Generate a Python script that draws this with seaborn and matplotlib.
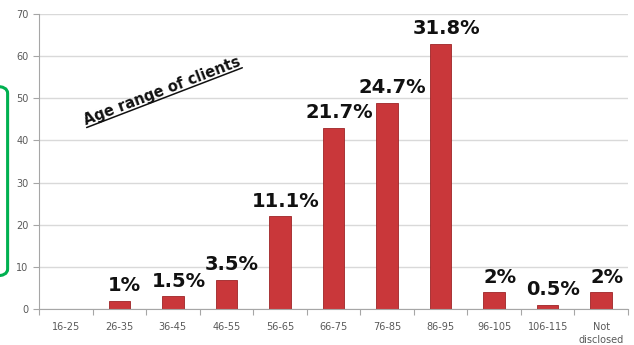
import matplotlib
matplotlib.use("Agg")
import matplotlib.pyplot as plt
import seaborn as sns
import pandas as pd
from matplotlib.patches import FancyBboxPatch
from matplotlib.lines import Line2D
from matplotlib.transforms import Affine2D

categories = ["16-25", "26-35", "36-45", "46-55", "56-65", "66-75", "76-85",
              "86-95", "96-105", "106-115", "Not\ndisclosed"]
values = [0, 2, 3, 7, 22, 43, 49, 63, 4, 1, 4]
pct_labels = ["", "1%", "1.5%", "3.5%", "11.1%", "21.7%", "24.7%", "31.8%",
              "2%", "0.5%", "2%"]
y_ticks = [0, 10, 20, 30, 40, 50, 60, 70]
title = "Age range of clients"

sns.set_theme(style="white")
plt.rcParams["font.family"] = ["DejaVu Sans"]

df = pd.DataFrame({"age": categories, "count": values})

fig = plt.figure(figsize=(6.34, 3.45), dpi=100)
ax = fig.add_axes([0.0615, 0.1043, 0.929, 0.855])

sns.barplot(data=df, x="age", y="count", color="#c9373a", width=0.4,
            edgecolor="#9e2426", linewidth=0.6, saturation=1, ax=ax)

ax.set_ylim(0, 70)
ax.set_xlim(-0.5, len(categories) - 0.5)
ax.set_yticks(y_ticks)
ax.yaxis.grid(True, color="#d9d9d9", linewidth=1.0)
ax.set_axisbelow(True)
ax.set_xlabel("")
ax.set_ylabel("")

for s in ["top", "right"]:
    ax.spines[s].set_visible(False)
for s in ["left", "bottom"]:
    ax.spines[s].set_color("#a6a6a6")
    ax.spines[s].set_linewidth(0.8)

ax.tick_params(axis="y", which="major", labelsize=7, labelcolor="#595959",
               color="#a6a6a6", length=4, width=0.8, left=True, direction="out")
ax.tick_params(axis="x", which="major", labelsize=7, labelcolor="#595959",
               length=0, pad=9)
ax.set_xticks([i + 0.5 for i in range(-1, len(categories))], minor=True)
ax.tick_params(axis="x", which="minor", bottom=True, length=4, width=0.8,
               color="#a6a6a6", direction="out")
for lab in ax.get_xticklabels():
    lab.set_linespacing(1.4)
    lab.set_verticalalignment("top")

for i, (v, t) in enumerate(zip(values, pct_labels)):
    if t:
        ax.annotate(t, xy=(i, v), xytext=(4, 4), textcoords="offset points",
                    ha="center", va="bottom", fontsize=14, fontweight="bold",
                    color="#111111")

# rotated, underlined title
angle = 21
tx, ty = 1.8, 51.6
ax.text(tx, ty, title, rotation=angle, rotation_mode="anchor",
        ha="center", va="center", fontsize=10.5, fontweight="bold",
        color="#111111")
fig.canvas.draw()
tmp = fig.text(0, 0, title, fontsize=10.5, fontweight="bold")
bb = tmp.get_window_extent(renderer=fig.canvas.get_renderer())
tmp.remove()
w, h = bb.width, bb.height
cx, cy = ax.transData.transform((tx, ty))
tr = Affine2D().rotate_deg(angle).translate(cx, cy)
ul = Line2D([-w / 2, w / 2], [-h / 2 + 1, -h / 2 + 1], transform=tr,
            color="#111111", linewidth=1.1)
fig.add_artist(ul)

bracket = FancyBboxPatch((-0.03, 0.2), 0.042, 0.55,
                         boxstyle="round,pad=0,rounding_size=0.02",
                         transform=fig.transFigure, fill=False,
                         edgecolor="#00b050", linewidth=2.2, clip_on=False)
fig.patches.append(bracket)

fig.savefig("out.png", dpi=100)
